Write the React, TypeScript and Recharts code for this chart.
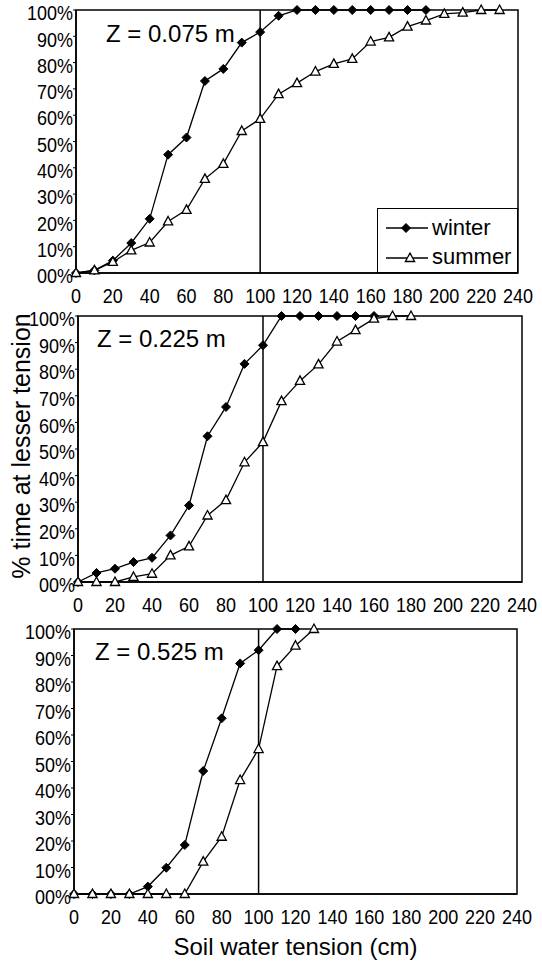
import { LineChart, Line, XAxis, YAxis, ReferenceLine, ReferenceArea, Legend, Label } from "recharts";

const tension = [0, 10, 20, 30, 40, 50, 60, 70, 80, 90, 100, 110, 120, 130, 140, 150, 160, 170, 180, 190, 200, 210, 220, 230];
const xTicks = [0, 20, 40, 60, 80, 100, 120, 140, 160, 180, 200, 220, 240];
const yTicks = [0, 10, 20, 30, 40, 50, 60, 70, 80, 90, 100];

// Z = 0.075 m
const winter075 = [0, 1, 4.7, 11.4, 20.6, 45, 51.5, 73, 77.6, 87.6, 91.6, 97.8, 100, 100, 100, 100, 100, 100, 100, 100];
const summer075 = [0, 1, 4.2, 8.6, 11.6, 19.6, 24, 35.8, 41.5, 54, 58.6, 68, 72.2, 76.6, 79.5, 81.4, 88, 89.6, 93.7, 96, 98.5, 99, 100, 100];
// Z = 0.225 m
const winter225 = [0, 3.4, 5, 7.5, 9.1, 17.5, 28.8, 54.8, 65.8, 82, 89, 100, 100, 100, 100, 100, 100];
const summer225 = [0, 0, 0, 1.9, 3.1, 10, 13.4, 25, 30.8, 45, 52.6, 68, 75.6, 81.8, 90.4, 94.7, 99, 100, 100];
// Z = 0.525 m
const winter525 = [0, 0, 0, 0, 2.8, 9.9, 18.5, 46.4, 66.3, 87, 92, 100, 100];
const summer525 = [0, 0, 0, 0, 0, 0, 0, 12.2, 21.6, 43, 54.7, 86, 93.7, 100];

const FONT = "'Liberation Sans', Arial, sans-serif";

const rows = (w: number[], s: number[]) =>
  tension
    .slice(0, Math.max(w.length, s.length))
    .map((t, i) => ({ t, winter: w[i], summer: s[i] }));

const Diamond = (props: any) => {
  const { cx, cy, key } = props;
  if (cx == null || cy == null) return <g key={key} />;
  const r = 4.5;
  return (
    <path key={key} d={`M${cx},${cy - r}L${cx + r},${cy}L${cx},${cy + r}L${cx - r},${cy}Z`} fill="#000" stroke="#000" />
  );
};

const Triangle = (props: any) => {
  const { cx, cy, key } = props;
  if (cx == null || cy == null) return <g key={key} />;
  return (
    <path
      key={key}
      d={`M${cx},${cy - 5}L${cx + 4.6},${cy + 3.5}L${cx - 4.6},${cy + 3.5}Z`}
      fill="#fff"
      stroke="#000"
      strokeWidth={1.3}
    />
  );
};

const XTick = ({ x, y, payload }: any) => (
  <text transform={`translate(${x},${y}) scale(1,1.12)`} textAnchor="middle" dy="0.71em" fontSize={18} fontFamily={FONT} fill="#000">
    {payload.value}
  </text>
);

const YTick = ({ x, y, payload }: any) => (
  <text transform={`translate(${x},${y + 3}) scale(1,1.12)`} textAnchor="end" dy="0.36em" fontSize={18} fontFamily={FONT} fill="#000">
    {payload.value === 0 ? "00%" : `${payload.value}%`}
  </text>
);

const LegendBox = () => (
  <div style={{ width: 141, height: 65, border: "1.5px solid #000", boxSizing: "border-box", background: "#fff" }}>
    <svg width={139} height={62} style={{ display: "block" }}>
      <line x1={8} x2={50} y1={19} y2={19} stroke="#000" strokeWidth={1.3} />
      <Diamond cx={28} cy={19} />
      <text x={54} y={26} fontSize={22} fontFamily={FONT} fill="#000">winter</text>
      <line x1={8} x2={50} y1={49} y2={49} stroke="#000" strokeWidth={1.3} />
      <Triangle cx={32} cy={49} />
      <text x={54} y={55} fontSize={22} fontFamily={FONT} fill="#000">summer</text>
    </svg>
  </div>
);

type PanelProps = {
  top: number;
  marginTop: number;
  plotLeft: number;
  plotRight: number;
  plotH: number;
  xAxisH: number;
  title: string;
  titleDx: number;
  titleDy: number;
  winter: number[];
  summer: number[];
  legend?: boolean;
  yLabel?: boolean;
  xLabel?: boolean;
};

function Panel(p: PanelProps) {
  const data = rows(p.winter, p.summer);
  const height = p.marginTop + p.plotH + p.xAxisH;
  return (
    <div style={{ position: "absolute", left: 0, top: p.top }}>
      <LineChart
        width={542}
        height={height}
        data={data}
        margin={{ top: p.marginTop, right: 542 - p.plotRight, left: 0, bottom: 0 }}
      >
        <XAxis
          dataKey="t"
          type="number"
          domain={[0, 240]}
          ticks={xTicks}
          interval={0}
          height={p.xAxisH}
          tickLine={false}
          tickSize={0}
          tickMargin={16}
          tick={<XTick />}
          axisLine={{ stroke: "#000", strokeWidth: 1.5 }}
        >
          {p.xLabel && (
            <Label
              content={({ viewBox }: any) => (
                <text
                  x={viewBox.x + viewBox.width / 2}
                  y={viewBox.y + 61}
                  textAnchor="middle"
                  fontSize={24}
                  fontFamily={FONT}
                  fill="#000"
                >
                  Soil water tension (cm)
                </text>
              )}
            />
          )}
        </XAxis>
        <YAxis
          type="number"
          domain={[0, 100]}
          ticks={yTicks}
          interval={0}
          width={p.plotLeft}
          tickSize={3}
          tickMargin={0}
          tick={<YTick />}
          tickLine={{ stroke: "#000" }}
          axisLine={{ stroke: "#000", strokeWidth: 1.5 }}
        >
          {p.yLabel && (
            <Label
              content={({ viewBox }: any) => {
                const cx = 21;
                const cy = viewBox.y + viewBox.height / 2 - 3;
                return (
                  <text
                    x={cx}
                    y={cy}
                    transform={`rotate(-90 ${cx} ${cy})`}
                    textAnchor="middle"
                    dominantBaseline="central"
                    fontSize={25}
                    fontFamily={FONT}
                    fill="#000"
                  >
                    % time at lesser tension
                  </text>
                );
              }}
            />
          )}
        </YAxis>
        <ReferenceArea x1={0} x2={240} y1={0} y2={100} fill="none" stroke="#000" strokeWidth={1.5}>
          <Label
            content={({ viewBox }: any) => (
              <text
                x={viewBox.x + p.titleDx}
                y={viewBox.y + p.titleDy}
                fontSize={24}
                fontFamily={FONT}
                fill="#000"
              >
                {p.title}
              </text>
            )}
          />
        </ReferenceArea>
        <ReferenceLine x={100} stroke="#000" strokeWidth={1.5} />
        <Line
          dataKey="winter"
          type="linear"
          stroke="#000"
          strokeWidth={1.3}
          dot={Diamond}
          activeDot={false}
          isAnimationActive={false}
        />
        <Line
          dataKey="summer"
          type="linear"
          stroke="#000"
          strokeWidth={1.3}
          dot={Triangle}
          activeDot={false}
          isAnimationActive={false}
        />
        {p.legend && (
          <Legend
            layout="vertical"
            align="center"
            verticalAlign="middle"
            content={<LegendBox />}
            wrapperStyle={{ position: "absolute", left: 377, top: 208 - p.top, width: 141, height: 65 }}
          />
        )}
      </LineChart>
    </div>
  );
}

export default function App() {
  return (
    <div style={{ position: "absolute", left: 0, top: 0, width: 542, height: 963, background: "#fff", fontFamily: FONT }}>
      <Panel
        top={0}
        marginTop={10}
        plotLeft={76}
        plotRight={518}
        plotH={263}
        xAxisH={38}
        title="Z = 0.075 m"
        titleDx={30}
        titleDy={32}
        winter={winter075}
        summer={summer075}
        legend
      />
      <Panel
        top={300}
        marginTop={16}
        plotLeft={78}
        plotRight={522}
        plotH={266}
        xAxisH={38}
        title="Z = 0.225 m"
        titleDx={19}
        titleDy={31}
        winter={winter225}
        summer={summer225}
        yLabel
      />
      <Panel
        top={612}
        marginTop={17}
        plotLeft={74}
        plotRight={517}
        plotH={265}
        xAxisH={69}
        title="Z = 0.525 m"
        titleDx={21}
        titleDy={31}
        winter={winter525}
        summer={summer525}
        xLabel
      />
    </div>
  );
}
